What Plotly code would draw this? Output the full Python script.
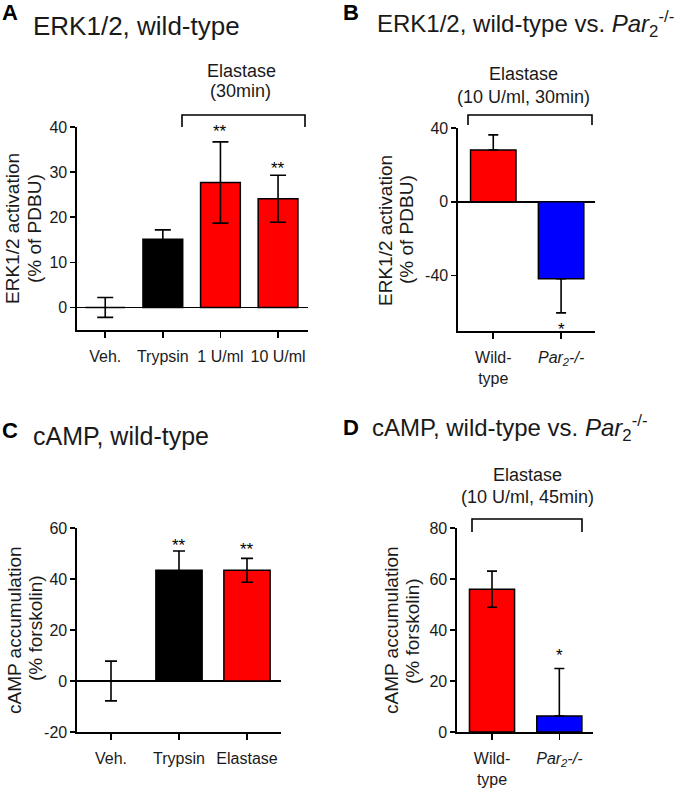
import plotly.graph_objects as go

W, H = 693, 788
FONT = "Liberation Sans, Arial, Helvetica, sans-serif"
RED, BLUE, BLACK = "#FF0000", "#0000FF", "#000000"
TXT = "#1a1a1a"

# ---------------- data ----------------
a_cats = ["Veh.", "Trypsin", "1 U/ml", "10 U/ml"]
a_vals = [0.0, 15.1, 27.7, 24.1]
a_err = [2.2, 2.1, 9.0, 5.2]
a_stars = ["", "", "**", "**"]
a_ticks = [0, 10, 20, 30, 40]

b_cats = ["Wild-<br>type", "<i>Par<sub>2</sub>-/-</i>"]
b_vals = [28.1, -41.7]
b_err_plus = [8.2, 0.0]
b_err_minus = [0.0, 18.5]
b_stars = ["", "*"]
b_ticks = [-40, 0, 40]

c_cats = ["Veh.", "Trypsin", "Elastase"]
c_vals = [0.0, 43.4, 43.4]
c_err = [7.8, 7.6, 4.7]
c_stars = ["", "**", "**"]
c_ticks = [-20, 0, 20, 40, 60]

d_cats = ["Wild-<br>type", "<i>Par<sub>2</sub>-/-</i>"]
d_vals = [56.0, 6.3]
d_err_plus = [7.1, 18.6]
d_err_minus = [7.1, 0.0]
d_stars = ["", "*"]
d_ticks = [0, 20, 40, 60, 80]


def px(x):
    return x / W


def py(y):
    return 1 - y / H


fig = go.Figure()


def add_bars(xa, ya, cats, vals, ep, em, colors, width, capw):
    fig.add_trace(go.Bar(
        x=cats, y=vals, xaxis=xa, yaxis=ya, width=width,
        marker=dict(color=colors, line=dict(color=BLACK, width=1.5)),
        error_y=dict(type="data", symmetric=False, array=ep, arrayminus=em,
                     color=BLACK, thickness=1.6, width=capw),
        showlegend=False, hoverinfo="skip"))


add_bars("x", "y", a_cats, a_vals, a_err, a_err, [RED, BLACK, RED, RED], 0.69, 8)
add_bars("x2", "y2", b_cats, b_vals, b_err_plus, b_err_minus, [RED, BLUE], 0.67, 5)
add_bars("x3", "y3", c_cats, c_vals, c_err, c_err, [RED, BLACK, RED], 0.68, 6)
add_bars("x4", "y4", d_cats, d_vals, d_err_plus, d_err_minus, [RED, BLUE], 0.67, 5)


def xax(dom, rng, anchor):
    return dict(domain=[px(dom[0]), px(dom[1])], range=rng, anchor=anchor,
                type="category", showline=True, linecolor=BLACK, linewidth=1.6,
                ticks="outside", ticklen=6, tickwidth=1.6, tickcolor=BLACK,
                ticklabelstandoff=5,
                showgrid=False, zeroline=False, fixedrange=True, automargin=False,
                tickfont=dict(family=FONT, size=16, color=TXT))


def yax(dom, rng, tv, anchor, zl=True):
    return dict(domain=[py(dom[1]), py(dom[0])], range=rng, anchor=anchor,
                tickmode="array", tickvals=tv, ticktext=[str(v) for v in tv],
                showline=True, linecolor=BLACK, linewidth=1.6,
                ticks="outside", ticklen=5, tickwidth=1.6, tickcolor=BLACK,
                showgrid=False, zeroline=zl, zerolinecolor=BLACK, zerolinewidth=1.6,
                fixedrange=True, automargin=False,
                tickfont=dict(family=FONT, size=16, color=TXT))


layout = dict(
    width=W, height=H, margin=dict(l=0, r=0, t=0, b=0, pad=0),
    paper_bgcolor="white", plot_bgcolor="white",
    font=dict(family=FONT, color=TXT),
    xaxis=xax((77, 308), [-0.49, 3.52], "y"),
    yaxis=yax((127, 330), [-5, 40], a_ticks, "x"),
    xaxis2=xax((458, 595), [-0.52, 1.5], "y2"),
    yaxis2=yax((128, 331), [-70, 40], b_ticks, "x2"),
    xaxis3=xax((77, 281), [-0.5, 2.5], "y3"),
    yaxis3=yax((528, 732), [-20, 60], c_ticks, "x3"),
    xaxis4=xax((457, 593), [-0.52, 1.5], "y4"),
    yaxis4=yax((528, 732), [0, 80], d_ticks, "x4", zl=False),
)

ann = []
shapes = []


def text(x, y, s, size, xanchor="center", angle=0, color=TXT, weight="normal"):
    ann.append(dict(x=px(x), y=py(y), xref="paper", yref="paper", text=s,
                    showarrow=False, xanchor=xanchor, yanchor="middle",
                    textangle=angle, borderpad=0,
                    font=dict(family=FONT, size=size, color=color, weight=weight)))


# panel letters
text(1, 12, "A", 22, "left", color=BLACK, weight="bold")
text(342, 12, "B", 22, "left", color=BLACK, weight="bold")
text(1, 431, "C", 22, "left", color=BLACK, weight="bold")
text(342, 428, "D", 22, "left", color=BLACK, weight="bold")

# panel titles
text(32, 26, "ERK1/2, wild-type", 26, "left")
text(376, 24, "ERK1/2, wild-type vs. <i>Par</i><sub>2</sub><sup>-/-</sup>", 24, "left")
text(32, 436, "cAMP, wild-type", 25, "left")
text(371, 428, "cAMP, wild-type vs. <i>Par</i><sub>2</sub><sup>-/-</sup>", 24, "left")

# y-axis titles
text(12, 229, "ERK1/2 activation", 19, angle=-90)
text(34, 229, "(% of PDBU)", 19, angle=-90)
text(386, 231, "ERK1/2 activation", 19, angle=-90)
text(407, 230, "(% of PDBU)", 19, angle=-90)
text(14, 630, "cAMP accumulation", 19, angle=-90)
text(35, 628, "(% forskolin)", 19, angle=-90)
text(391, 630, "cAMP accumulation", 19, angle=-90)
text(412, 631, "(% forskolin)", 19, angle=-90)

# elastase brackets
text(241, 71, "Elastase", 18)
text(240, 91, "(30min)", 18)
text(523, 74, "Elastase", 18)
text(523, 97, "(10 U/ml, 30min)", 18)
text(527, 475, "Elastase", 18)
text(527, 497, "(10 U/ml, 45min)", 18)


def bracket(x0, x1, ytop, ybot):
    shapes.append(dict(type="path", xref="paper", yref="paper",
                       path=f"M {px(x0)},{py(ybot)} L {px(x0)},{py(ytop)} "
                            f"L {px(x1)},{py(ytop)} L {px(x1)},{py(ybot)}",
                       line=dict(color=BLACK, width=1.6)))


bracket(182, 305, 115, 127)
bracket(468, 592, 115, 125)
bracket(472, 582, 519, 532)


# significance stars in data coordinates
def stars(xr, yr, cats, vals, ep, em, marks, shifts):
    for c, v, p, m, s, sh in zip(cats, vals, ep, em, marks, shifts):
        if not s:
            continue
        yv = v + p if v >= 0 else v - m
        ann.append(dict(x=c, y=yv, xref=xr, yref=yr, text=s, showarrow=False,
                        xanchor="center", yanchor="middle", yshift=sh, borderpad=0,
                        font=dict(family=FONT, size=17, color=BLACK)))


stars("x", "y", a_cats, a_vals, a_err, a_err, a_stars, [0, 0, 10, 7])
stars("x2", "y2", b_cats, b_vals, b_err_plus, b_err_minus, b_stars, [0, -17])
stars("x3", "y3", c_cats, c_vals, c_err, c_err, c_stars, [0, 5, 9])
stars("x4", "y4", d_cats, d_vals, d_err_plus, d_err_minus, d_stars, [0, 13])

layout["annotations"] = ann
layout["shapes"] = shapes
fig.update_layout(**layout)
fig.write_html(
    "out.html",
    config={"displayModeBar": False, "staticPlot": True},
    post_script="document.body.style.margin='0';document.body.style.overflow='hidden';",
)
